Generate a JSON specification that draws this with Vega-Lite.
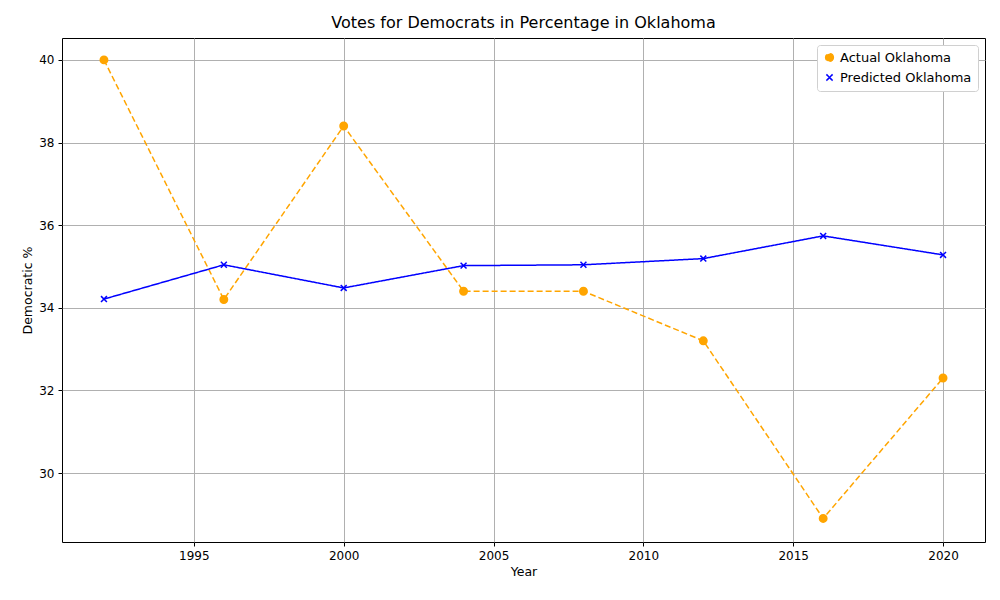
{
  "$schema": "https://vega.github.io/schema/vega-lite/v6.json",
  "width": 923,
  "height": 504,
  "autosize": "none",
  "padding": {"left": 62, "top": 38, "right": 15, "bottom": 58},
  "background": "white",
  "config": {
    "font": "DejaVu Sans",
    "view": {"stroke": "black", "strokeWidth": 1},
    "axis": {
      "labelFontSize": 12, "titleFontSize": 12.5, "labelColor": "black", "titleColor": "black",
      "titleFontWeight": "normal", "gridColor": "#b0b0b0", "gridWidth": 1, "gridOpacity": 1,
      "tickColor": "black", "domain": false, "tickSize": 4, "labelPadding": 4
    }
  },
  "title": {"text": "Votes for Democrats in Percentage in Oklahoma", "fontSize": 16, "fontWeight": "normal", "offset": 7},
  "data": {"values": [
    {"year": 1992, "series": "Actual Oklahoma", "pct": 40.0},
    {"year": 1996, "series": "Actual Oklahoma", "pct": 34.2},
    {"year": 2000, "series": "Actual Oklahoma", "pct": 38.4},
    {"year": 2004, "series": "Actual Oklahoma", "pct": 34.4},
    {"year": 2008, "series": "Actual Oklahoma", "pct": 34.4},
    {"year": 2012, "series": "Actual Oklahoma", "pct": 33.2},
    {"year": 2016, "series": "Actual Oklahoma", "pct": 28.9},
    {"year": 2020, "series": "Actual Oklahoma", "pct": 32.3},
    {"year": 1992, "series": "Predicted Oklahoma", "pct": 34.21},
    {"year": 1996, "series": "Predicted Oklahoma", "pct": 35.04},
    {"year": 2000, "series": "Predicted Oklahoma", "pct": 34.48},
    {"year": 2004, "series": "Predicted Oklahoma", "pct": 35.02},
    {"year": 2008, "series": "Predicted Oklahoma", "pct": 35.04},
    {"year": 2012, "series": "Predicted Oklahoma", "pct": 35.19},
    {"year": 2016, "series": "Predicted Oklahoma", "pct": 35.74},
    {"year": 2020, "series": "Predicted Oklahoma", "pct": 35.28}
  ]},
  "encoding": {
    "x": {"field": "year", "type": "quantitative", "title": "Year",
      "scale": {"domain": [1990.6, 2021.4], "nice": false, "zero": false},
      "axis": {"values": [1995, 2000, 2005, 2010, 2015, 2020], "format": "d"}},
    "y": {"field": "pct", "type": "quantitative", "title": "Democratic %",
      "scale": {"domain": [28.33, 40.53], "nice": false, "zero": false},
      "axis": {"values": [30, 32, 34, 36, 38, 40]}},
    "color": {"field": "series", "type": "nominal", "title": null,
      "scale": {"domain": ["Actual Oklahoma", "Predicted Oklahoma"], "range": ["orange", "blue"]},
      "legend": {"orient": "top-right", "offset": 7, "labelFontSize": 13, "symbolSize": 60,
        "symbolStrokeWidth": 1.5, "symbolOpacity": 1, "strokeColor": "#d0d0d0", "fillColor": "white", "padding": 6,
        "cornerRadius": 3, "rowPadding": 6}}
  },
  "layer": [
    {"mark": {"type": "line", "strokeWidth": 1.5},
      "encoding": {"strokeDash": {"field": "series", "type": "nominal",
        "scale": {"domain": ["Actual Oklahoma", "Predicted Oklahoma"], "range": [[6, 3], [1, 0]]}, "legend": null}}},
    {"mark": {"type": "point", "filled": true, "size": 55, "strokeWidth": 1.5, "opacity": 1},
      "encoding": {
        "shape": {"field": "series", "type": "nominal",
          "scale": {"domain": ["Actual Oklahoma", "Predicted Oklahoma"], "range": ["circle", "M-0.8,-0.8L0.8,0.8M0.8,-0.8L-0.8,0.8"]}, "legend": null},
        "stroke": {"field": "series", "type": "nominal",
          "scale": {"domain": ["Actual Oklahoma", "Predicted Oklahoma"], "range": ["orange", "blue"]}, "legend": null}
      }}
  ]
}
